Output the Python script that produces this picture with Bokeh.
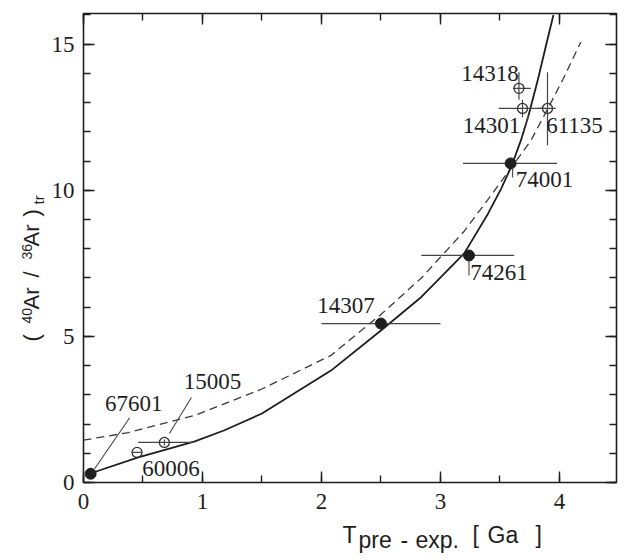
import numpy as np
from bokeh.plotting import figure
from bokeh.layouts import column, row
from bokeh.models import Range1d, LinearAxis, SingleIntervalTicker, ColumnDataSource
from bokeh.core.properties import value
from bokeh.embed import file_html
from bokeh.resources import INLINE

# ---------------- data ----------------
solid_x = [0.05, 0.46, 0.93, 1.18, 1.50, 2.08, 2.50, 2.84, 3.20, 3.40, 3.51, 3.60, 3.68, 3.74, 3.82, 3.89, 3.95]
solid_y = [0.30, 0.86, 1.40, 1.78, 2.36, 3.83, 5.20, 6.35, 7.84, 9.20, 10.05, 10.85, 11.75, 12.55, 13.80, 15.00, 16.00]

dashed_x = [0.00, 0.38, 0.93, 1.50, 2.08, 2.50, 2.84, 3.20, 3.43, 3.60, 3.76, 3.91, 4.03, 4.18]
dashed_y = [1.45, 1.71, 2.29, 3.20, 4.35, 5.75, 7.00, 8.60, 9.85, 10.80, 11.70, 12.85, 13.80, 15.07]

filled_names = ["67601", "14307", "74261", "74001"]
filled_x = [0.06, 2.50, 3.24, 3.59]
filled_y = [0.30, 5.44, 7.77, 10.92]
filled_xlo = [0.06, 2.00, 2.84, 3.19]
filled_xhi = [0.06, 3.00, 3.62, 3.98]

open_names = ["60006", "15005", "14318", "14301", "61135"]
open_x = [0.45, 0.68, 3.66, 3.69, 3.90]
open_y = [1.03, 1.37, 13.49, 12.80, 12.80]
open_xlo = [0.41, 0.46, 3.61, 3.49, 3.82]
open_xhi = [0.49, 0.92, 3.76, 3.86, 3.97]
open_ylo = [1.03, 1.27, 13.10, 12.50, 11.54]
open_yhi = [1.03, 1.47, 14.04, 13.10, 14.04]

x_tick_step = 1
y_tick_step = 5

x_title = ["T", "pre", "-", "exp.", "[", "Ga", "]"]
y_title_main = ["(", "Ar", "/", "Ar", ")"]
y_title_sup = ["40", "36"]
y_title_sub = ["tr"]

# ---------------- layout / style ----------------
NARROW = "Liberation Sans Narrow"
REG = "Liberation Sans"
INK = "#1e1e1e"
X0, X1, Y0, Y1 = 0.0, 4.48, 0.0, 16.05
FL, FT = 82, 13            # main frame left / top (page px)
FW, FH = 533, 469
FB = FT + FH               # main frame bottom (page px)
PX = FW / (X1 - X0)
PY = FH / (Y1 - Y0)
YW = 48                    # left title strip width
TOTAL_W = 621
XSTAND = 11                # x tick label standoff
XLAB_H = 26                # expected height of the x tick label band
PB = XSTAND + XLAB_H       # main figure bottom border (expected)
XF_TOP = FB + PB           # page y where the bottom strip starts
XFH = 36                   # bottom strip height

label_off = {
    "67601": (43, -70), "15005": (48, -61), "60006": (34, 16), "14307": (-35, -18),
    "74261": (30, 17), "74001": (34, 16), "14318": (-29, -15), "14301": (-31, 17),
    "61135": (27, 17),
}
leader_off = {
    "67601": (4, -5, 39, -56),
    "15005": (5, -9, 27, -45),
    "14301": (1, 22, 6, 7),
    "74261": (0, 5, 0, 20),
    "74001": (2, 4, 2, 14),
}

xr = Range1d(X0, X1)
p = figure(x_range=xr, y_range=Range1d(Y0, Y1),
           frame_width=FW, frame_height=FH,
           min_border_left=FL - YW, min_border_top=FT, min_border_right=TOTAL_W - FL - FW,
           min_border_bottom=PB,
           output_backend="svg", toolbar_location=None)
p.background_fill_color = "white"
p.border_fill_color = "white"
p.outline_line_color = INK
p.outline_line_width = 1.6
p.xgrid.visible = False
p.ygrid.visible = False


def style_axis(ax, labels=True):
    ax.axis_line_color = None
    ax.major_tick_in = 11
    ax.major_tick_out = 0
    ax.minor_tick_in = 7
    ax.minor_tick_out = 0
    ax.major_tick_line_color = INK
    ax.minor_tick_line_color = INK
    ax.major_tick_line_width = 1.4
    ax.minor_tick_line_width = 1.4
    if labels:
        ax.major_label_text_font = NARROW
        ax.major_label_text_font_size = "23px"
        ax.major_label_text_color = INK
    else:
        ax.major_label_text_font_size = "0px"
        ax.major_label_text_color = None
        ax.major_label_standoff = 0


p.xaxis.ticker = SingleIntervalTicker(interval=x_tick_step, num_minor_ticks=2)
p.yaxis.ticker = SingleIntervalTicker(interval=y_tick_step, num_minor_ticks=5)
style_axis(p.xaxis[0])
style_axis(p.yaxis[0])
p.xaxis.major_label_standoff = XSTAND
p.yaxis.major_label_standoff = 9

top = LinearAxis(ticker=SingleIntervalTicker(interval=x_tick_step, num_minor_ticks=2))
style_axis(top, labels=False)
p.add_layout(top, "above")
right = LinearAxis(ticker=SingleIntervalTicker(interval=y_tick_step, num_minor_ticks=5))
style_axis(right, labels=False)
p.add_layout(right, "right")

p.line(dashed_x, dashed_y, line_color="#3a3a3a", line_width=1.3, line_dash="8 5")
p.line(solid_x, solid_y, line_color=INK, line_width=1.8)

p.segment(filled_xlo, filled_y, filled_xhi, filled_y, line_color="#444444", line_width=1.2)
p.segment(open_xlo, open_y, open_xhi, open_y, line_color="#444444", line_width=1.2)
p.segment(open_x, open_ylo, open_x, open_yhi, line_color="#444444", line_width=1.2)

p.scatter(open_x, open_y, size=10, marker="circle", fill_color=None, line_color="#333333", line_width=1.3)
p.scatter(filled_x, filled_y, size=11, marker="circle", fill_color=INK, line_color=INK)

pts = dict(zip(filled_names + open_names, zip(filled_x + open_x, filled_y + open_y)))
lx0, ly0, lx1, ly1 = [], [], [], []
for name, (a, b, c, d) in leader_off.items():
    x, y = pts[name]
    lx0.append(x + a / PX); ly0.append(y - b / PY)
    lx1.append(x + c / PX); ly1.append(y - d / PY)
p.segment(lx0, ly0, lx1, ly1, line_color="#444444", line_width=1.1)

names = filled_names + open_names
src = ColumnDataSource(dict(
    x=[pts[n][0] for n in names], y=[pts[n][1] for n in names], t=names,
    dx=[label_off[n][0] for n in names], dy=[label_off[n][1] for n in names]))
p.text(x="x", y="y", text="t", x_offset="dx", y_offset="dy", source=src,
       text_font=value(NARROW), text_font_size="23px", text_color=INK,
       text_align="center", text_baseline="middle")

# ---- y title strip: its frame is aligned with the main frame (page y FT..FB) ----
yf = figure(width=YW, height=FB + PB, x_range=Range1d(0, YW), y_range=Range1d(0, FH),
            min_border=0, min_border_left=0, min_border_right=0,
            min_border_top=0, min_border_bottom=0,
            x_axis_type=None, y_axis_type=None,
            output_backend="svg", toolbar_location=None)
yf.outline_line_color = None
yf.background_fill_color = "white"
yf.border_fill_color = "white"
yf.xgrid.visible = False
yf.ygrid.visible = False
R = np.pi / 2
ym_start = [341, 309, 277, 246, 216]     # page y where each piece starts (text runs upward)
ysup_start = [323, 259]
ysub_start = [204]
yf.text(x=[31.3] * len(y_title_main), y=[FB - v for v in ym_start], text=y_title_main, angle=R,
        text_font=value(REG), text_font_size="22px", text_color=INK,
        text_align="left", text_baseline="middle")
yf.text(x=[26.1] * len(y_title_sup), y=[FB - v for v in ysup_start], text=y_title_sup, angle=R,
        text_font=value(REG), text_font_size="14px", text_color=INK,
        text_align="left", text_baseline="middle")
yf.text(x=[37.8] * len(y_title_sub), y=[FB - v for v in ysub_start], text=y_title_sub, angle=R,
        text_font=value(REG), text_font_size="15px", text_color=INK,
        text_align="left", text_baseline="middle")

# ---- bottom strip: x title ----
xf = figure(x_range=xr, y_range=Range1d(0, XFH),
            frame_width=FW, frame_height=XFH,
            min_border_left=FL, min_border_right=TOTAL_W - FL - FW,
            min_border_top=0, min_border_bottom=0,
            x_axis_type=None, y_axis_type=None,
            output_backend="svg", toolbar_location=None)
xf.outline_line_color = None
xf.background_fill_color = "white"
xf.border_fill_color = "white"
xf.xgrid.visible = False
xf.ygrid.visible = False

xt_left = [342, 358, 400, 415, 472, 487, 535]      # page x of each piece
xt_mid = [534, 539, 539, 539, 534, 534, 534]       # page y of each piece's middle line
xf.text(x=[(v - FL) / PX for v in xt_left], y=[XFH - (m - XF_TOP) for m in xt_mid],
        text=x_title, text_font=value(REG), text_font_size="23px", text_color=INK,
        text_align="left", text_baseline="middle")

layout = column(row(yf, p, spacing=0), xf, spacing=0)
open("out.html", "w").write(file_html(layout, INLINE))
